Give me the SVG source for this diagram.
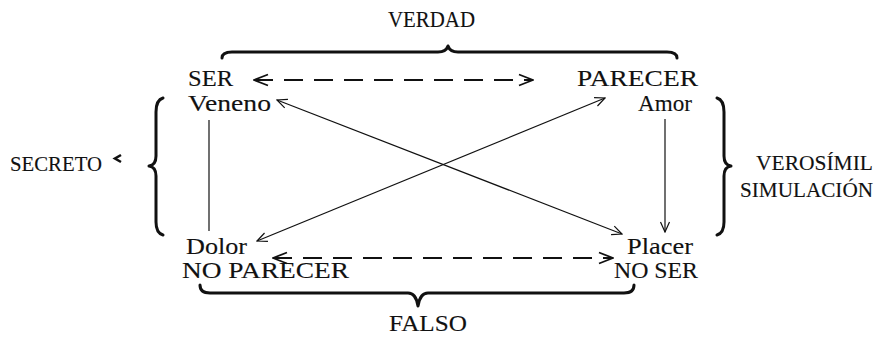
<svg xmlns="http://www.w3.org/2000/svg" width="880" height="337" viewBox="0 0 880 337">
  <defs>
    <marker id="arrow" viewBox="0 0 12 12" refX="11" refY="6" markerWidth="12" markerHeight="12" markerUnits="userSpaceOnUse" orient="auto-start-reverse">
      <path d="M1,1.5 L11,6 L1,10.5" fill="none" stroke="#111" stroke-width="1.2"/>
    </marker>
    <marker id="arrowBold" viewBox="0 0 16 14" refX="15" refY="7" markerWidth="16" markerHeight="14" markerUnits="userSpaceOnUse" orient="auto-start-reverse">
      <path d="M1,1.5 L15,7 L1,12.5" fill="none" stroke="#111" stroke-width="1.8"/>
    </marker>
    <style>
      .thin { fill: none; stroke: #111; stroke-width: 1.2; }
      .dash { fill: none; stroke: #111; stroke-width: 2; stroke-dasharray: 19 11; }
      .brace { fill: none; stroke: #111; stroke-width: 3; stroke-linecap: round; stroke-linejoin: round; }
    </style>
  </defs>

  <rect width="880" height="337" fill="#fff"/>

  <!-- braces -->
  <g id="braces">
    <path class="brace" d="M222,58 Q222,52 232,52 L438,52 Q446,52 448,46 Q450,52 458,52 L667,52 Q677,52 677,58"/>
    <path class="brace" d="M200,285 Q200,293 210,293 L408,293 Q416,293 418,306 Q420,293 428,293 L624,293 Q634,293 634,285"/>
    <path class="brace" d="M163,98 Q156,100 156,112 L156,156 Q156,165 149,166 Q156,167 156,176 L156,222 Q156,233 163,235"/>
    <path class="brace" d="M717,98 Q724,100 724,112 L724,156 Q724,165 731,166 Q724,167 724,176 L724,222 Q724,233 717,235"/>
  </g>

  <!-- connectors -->
  <g id="connectors">
    <line class="dash" x1="254" y1="80" x2="533" y2="80" marker-start="url(#arrowBold)" marker-end="url(#arrowBold)"/>
    <line class="dash" x1="273" y1="258" x2="613" y2="258" marker-start="url(#arrowBold)" marker-end="url(#arrowBold)"/>
    <line class="thin" x1="277" y1="100" x2="622" y2="234" marker-start="url(#arrow)" marker-end="url(#arrow)"/>
    <line class="thin" x1="605" y1="98" x2="257" y2="241" marker-start="url(#arrow)" marker-end="url(#arrow)"/>
    <line class="thin" x1="209" y1="120" x2="209" y2="231"/>
    <line class="thin" x1="665" y1="119" x2="665" y2="232" marker-end="url(#arrow)"/>
  </g>

  <!-- all labels share one serif face -->
  <g font-family="'Liberation Serif', 'Times New Roman', serif" font-size="23" fill="#111" stroke="#111" stroke-width="0.12">
    <g id="node-ser">
      <text x="188" y="86" textLength="45" lengthAdjust="spacingAndGlyphs">SER</text>
      <text x="188" y="111" textLength="83" lengthAdjust="spacingAndGlyphs">Veneno</text>
    </g>
    <g id="node-parecer">
      <text x="577" y="86" textLength="121" lengthAdjust="spacingAndGlyphs">PARECER</text>
      <text x="638" y="111" textLength="54" lengthAdjust="spacingAndGlyphs">Amor</text>
    </g>
    <g id="node-no-parecer">
      <text x="186" y="254" textLength="61" lengthAdjust="spacingAndGlyphs">Dolor</text>
      <text x="182" y="278" textLength="167" lengthAdjust="spacingAndGlyphs">NO PARECER</text>
    </g>
    <g id="node-no-ser">
      <text x="627" y="254" textLength="66" lengthAdjust="spacingAndGlyphs">Placer</text>
      <text x="614" y="278" textLength="84" lengthAdjust="spacingAndGlyphs">NO SER</text>
    </g>
    <g id="label-verdad">
      <text x="388" y="27" textLength="87" lengthAdjust="spacingAndGlyphs">VERDAD</text>
    </g>
    <g id="label-falso">
      <text x="389" y="331" textLength="78" lengthAdjust="spacingAndGlyphs">FALSO</text>
    </g>
    <g id="label-secreto">
      <text x="10" y="171" font-size="22" textLength="92" lengthAdjust="spacingAndGlyphs">SECRETO</text>
      <path d="M121,155 L115,158.5 L121,162" fill="none" stroke-width="2.6"/>
    </g>
    <g id="label-verosimil" font-size="21">
      <text x="756" y="170" textLength="117" lengthAdjust="spacingAndGlyphs">VEROSÍMIL</text>
      <text x="740" y="197" textLength="133" lengthAdjust="spacingAndGlyphs">SIMULACIÓN</text>
    </g>
  </g>
</svg>
